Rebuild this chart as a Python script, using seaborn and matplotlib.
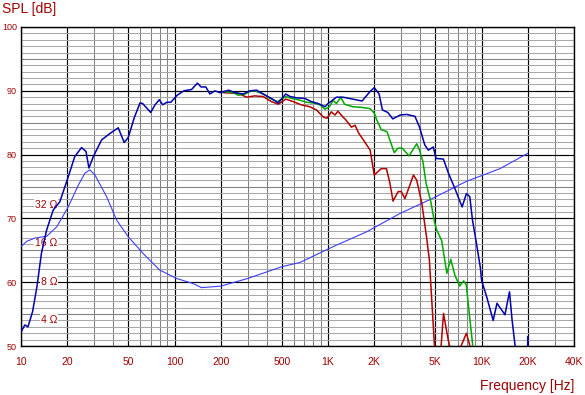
import numpy as np
import pandas as pd
import matplotlib
matplotlib.use("Agg")
import matplotlib.pyplot as plt
import matplotlib.ticker as mticker
import seaborn as sns

# SPL, full range (dark blue)
spl_freq = [10, 10.6, 11.1, 11.9, 12.7, 13.6, 14.7, 16.2, 17.9, 20.3, 22.4, 24.8, 26.5, 27.7,
            29.6, 33.5, 37.9, 43, 47, 50, 54.5, 59.6, 62, 70, 74.6, 79.6, 83.8, 89, 94.6,
            104, 115, 129, 141, 149, 160, 170, 183, 198, 225, 248, 280, 310, 342, 378, 428,
            474, 530, 566, 625, 706, 780, 864, 956, 1000, 1134, 1253, 1666, 1880, 2000, 2150,
            2260, 2450, 2640, 2950, 3250, 3680, 3930, 4270, 4500, 4850, 5050, 5640, 6080,
            6700, 7470, 7970, 8380, 8730, 9260, 9830, 10000, 10800, 11900, 12600, 14200,
            15200, 15800, 16500, 17500, 19700, 20000]
spl_db = [52.2, 53.3, 53.0, 55.4, 59.3, 64.6, 68.2, 71.3, 72.6, 76.5, 79.7, 81.1, 80.5, 77.9,
          79.7, 82.3, 83.3, 84.2, 81.9, 82.7, 85.7, 88.1, 88.0, 86.6, 87.8, 88.6, 87.8, 88.2, 88.2,
          89.3, 90.0, 90.2, 91.2, 90.6, 90.6, 89.5, 90.0, 89.7, 90.1, 89.7, 89.5, 90.0, 90.1, 89.5, 88.8,
          88.1, 89.5, 89.1, 88.9, 88.8, 88.3, 88.0, 87.5, 88.0, 89.0, 89.0, 88.4, 89.9, 90.5, 89.5,
          87.0, 86.6, 85.6, 86.2, 86.3, 86.0, 84.4, 81.5, 80.7, 81.2, 79.4, 79.3, 77.1,
          74.7, 71.8, 73.9, 73.4, 69.7, 66.1, 62.2, 60.3, 57.7, 54.0, 56.7, 54.9,
          58.5, 54.1, 50.2, 44.0, 42.0, 51.5]

# SPL, green filter
green_freq = [208, 242, 260, 288, 310, 333, 378, 420, 467, 530, 580, 640, 725, 800, 886, 956,
              1020, 1080, 1134, 1210, 1280, 1450, 1660, 1880, 2000, 2080, 2220, 2420, 2550, 2700,
              2850, 3050, 3170, 3370, 3780, 3930, 4150, 4350, 4670, 4930, 5100, 5500, 5940, 6300,
              6700, 7200, 7640, 7950, 8400, 8750, 9000]
green_db = [89.9, 89.7, 89.3, 89.5, 89.9, 90.0, 89.5, 88.8, 88.3, 89.1, 88.8, 88.6, 88.2, 88.1, 87.8, 87.1,
            87.5, 88.5, 88.0, 89.0, 87.9, 87.5, 87.4, 87.2, 86.5, 85.4, 83.9, 83.6, 82.0, 80.3,
            81.0, 81.0, 80.5, 79.8, 81.7, 80.8, 78.9, 75.5, 72.6, 69.5, 68.2, 66.5, 61.4, 63.6,
            61.1, 59.4, 60.2, 59.6, 54.1, 50.2, 45.0]

# SPL, red filter
red_freq = [208, 260, 295, 333, 378, 428, 474, 530, 593, 670, 760, 840, 930, 985, 1050, 1110,
            1160, 1250, 1300, 1420, 1500, 1580, 1700, 1880, 2000, 2220, 2400, 2530, 2650, 2860,
            3000, 3170, 3600, 3780, 4080, 4270, 4380, 4570, 4930, 5200, 5450, 5650, 6070, 6200,
            6800, 7350, 7970, 8400, 8800]
red_db = [89.7, 89.6, 89.0, 89.2, 89.1, 88.3, 87.9, 88.7, 88.3, 87.8, 87.5, 87.0, 85.9, 85.7, 86.7, 86.2,
          86.8, 85.9, 85.5, 84.3, 84.6, 83.4, 82.3, 80.7, 76.8, 77.8, 77.8, 75.5, 72.7, 74.2,
          74.2, 73.1, 76.8, 76.0, 72.4, 69.0, 67.1, 63.5, 50.2, 45.0, 50.0, 55.1, 50.9, 50.0,
          45.0, 50.0, 52.0, 50.0, 45.0]

# impedance in ohms
imp_freq = [10, 10.9, 12.3, 14.7, 17.1, 20.3, 23.6, 26.1, 28.1, 30.3, 36.1, 42, 50, 62.6, 80,
            103, 132, 150, 200, 300, 500, 657, 1080, 1780, 2950, 4850, 7970, 13200, 20000]
imp_ohm = [15.1, 16.6, 17.6, 18.2, 21.6, 30.9, 45.7, 56.9, 60.3, 55.0, 37.2, 24.3, 18.0, 13.3, 9.9,
           8.5, 7.76, 7.2, 7.4, 8.5, 10.5, 11.35, 15.1, 19.7, 27.5, 36.3, 49.0, 61.7, 81.3]

x_ticks = [10, 20, 50, 100, 200, 500, 1000, 2000, 5000, 10000, 20000, 40000]
x_tick_labels = ["10", "20", "50", "100", "200", "500", "1K", "2K", "5K", "10K", "20K", "40K"]
y_ticks = [50, 60, 70, 80, 90, 100]
ohm_marks = [32, 16, 8, 4]

TXT = "#a00000"


def ohm_to_axis(z):
    # impedance scale: 4 ohm at 54 dB, 6 dB per doubling
    return 42 + 20 * np.log10(np.asarray(z, dtype=float))


sns.set_style("white")
plt.rcParams["font.family"] = ["Liberation Sans", "DejaVu Sans"]

fig = plt.figure(figsize=(5.85, 3.95), dpi=100)
ax = fig.add_axes([21 / 585, 1 - 346 / 395, 553 / 585, 319 / 395])

ax.set_xscale("log")
ax.set_xlim(10, 40000)
ax.set_ylim(50, 100)

# grid: black at 1-2-5 and every 10 dB, grey otherwise
ax.xaxis.set_major_locator(mticker.FixedLocator(x_ticks))
ax.xaxis.set_major_formatter(mticker.FixedFormatter(x_tick_labels))
ax.xaxis.set_minor_locator(mticker.LogLocator(base=10, subs=(3, 4, 6, 7, 8, 9), numticks=20))
ax.xaxis.set_minor_formatter(mticker.NullFormatter())
ax.yaxis.set_major_locator(mticker.FixedLocator(y_ticks))
ax.yaxis.set_minor_locator(mticker.MultipleLocator(1))

ax.grid(which="minor", axis="y", color="#a8a8a8", lw=0.75)
ax.grid(which="minor", axis="x", color="#808080", lw=0.75)
for v in range(55, 100, 10):
    ax.axhline(v, color="#808080", lw=0.75, zorder=0.6)
ax.grid(which="major", axis="both", color="black", lw=0.85)
ax.set_axisbelow(True)

for s in ax.spines.values():
    s.set_color("black")
    s.set_linewidth(1.0)

ax.tick_params(which="both", length=0, labelcolor=TXT, labelsize=7.5)
ax.tick_params(axis="x", pad=8)
ax.tick_params(axis="y", labelsize=6.5, pad=3)

# ohm labels sit under the curves but over the grid
for z in ohm_marks:
    ax.text(17.2, ohm_to_axis(z), f"{z} Ω", color=TXT, fontsize=7.5, ha="right", va="center",
            bbox=dict(facecolor="white", edgecolor="none", pad=0.6), zorder=1.5)

imp = pd.DataFrame({"f": imp_freq, "v": ohm_to_axis(imp_ohm)})
sns.lineplot(data=imp, x="f", y="v", ax=ax, color="#3c3cff", lw=0.8, sort=False, zorder=3)
sns.lineplot(x=red_freq, y=red_db, ax=ax, color="#b40000", lw=1.1, sort=False, zorder=4)
sns.lineplot(x=green_freq, y=green_db, ax=ax, color="#00a800", lw=1.1, sort=False, zorder=5)
sns.lineplot(x=spl_freq, y=spl_db, ax=ax, color="#0000b0", lw=1.1, sort=False, zorder=6)

ax.set_xlabel("")
ax.set_ylabel("")
fig.text(2 / 585, 1 - 9 / 395, "SPL [dB]", color=TXT, fontsize=10, ha="left", va="center")
fig.text(574 / 585, 1 - 386 / 395, "Frequency [Hz]", color=TXT, fontsize=10, ha="right", va="center")

fig.savefig("out.png", dpi=100, facecolor="white")
